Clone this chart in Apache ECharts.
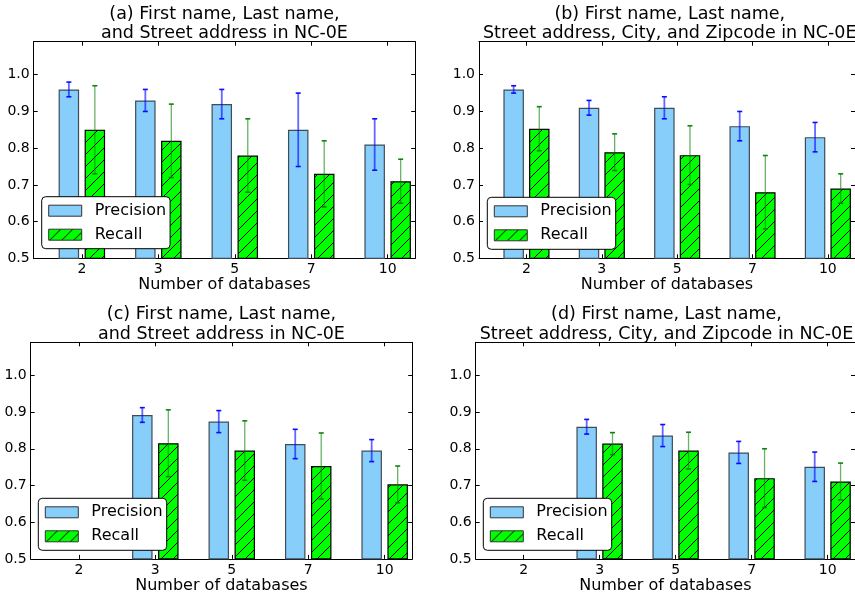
<!DOCTYPE html>
<html>
<head>
<meta charset="utf-8">
<title>Precision / Recall vs number of databases</title>
<script src="https://cdn.jsdelivr.net/npm/echarts@6/dist/echarts.min.js"></script>
<style>
  html, body { margin: 0; padding: 0; background: #fff; }
  #main { width: 855px; height: 601px; }
</style>
</head>
<body>
<div id="main"></div>
<script>
// x categories
var categories = ['2', '3', '5', '7', '10'];

// (a)
var precisionA = [0.96, 0.93, 0.92, 0.85, 0.81];
var precisionErrA = [0.02, 0.03, 0.04, 0.10, 0.07];
var recallA = [0.85, 0.82, 0.78, 0.73, 0.71];
var recallErrA = [0.12, 0.10, 0.10, 0.09, 0.06];
// (b)
var precisionB = [0.96, 0.91, 0.91, 0.86, 0.83];
var precisionErrB = [0.01, 0.02, 0.03, 0.04, 0.04];
var recallB = [0.853, 0.789, 0.781, 0.68, 0.69];
var recallErrB = [0.06, 0.05, 0.08, 0.10, 0.04];
// (c)  no value for 2 databases
var precisionC = [null, 0.892, 0.874, 0.813, 0.795];
var precisionErrC = [null, 0.02, 0.03, 0.04, 0.03];
var recallC = [null, 0.815, 0.795, 0.753, 0.703];
var recallErrC = [null, 0.091, 0.081, 0.09, 0.05];
// (d)
var precisionD = [null, 0.86, 0.836, 0.79, 0.751];
var precisionErrD = [null, 0.02, 0.03, 0.03, 0.04];
var recallD = [null, 0.814, 0.795, 0.72, 0.711];
var recallErrD = [null, 0.03, 0.05, 0.08, 0.05];

var yTicks = [0.5, 0.6, 0.7, 0.8, 0.9, 1.0];

var FONT = '"DejaVu Sans", "Bitstream Vera Sans", sans-serif';
var W = 381.5, H = 216.6;
var X_MIN = -0.63, X_MAX = 4.36, OFF = 0.17;

var panels = [
  { title: '(a) First name, Last name,\nand Street address in NC-0E', left: 33.7, top: 41.7, titleTop: 4.5,
    legend: [41.7, 196.7], p: precisionA, pe: precisionErrA, r: recallA, re: recallErrA },
  { title: '(b) First name, Last name,\nStreet address, City, and Zipcode in NC-0E', left: 479, top: 41.7, titleTop: 4.5,
    legend: [487.3, 197.3], p: precisionB, pe: precisionErrB, r: recallB, re: recallErrB },
  { title: '(c) First name, Last name,\nand Street address in NC-0E', left: 30.7, top: 342.3, titleTop: 305,
    legend: [38.3, 498.3], p: precisionC, pe: precisionErrC, r: recallC, re: recallErrC },
  { title: '(d) First name, Last name,\nStreet address, City, and Zipcode in NC-0E', left: 475.7, top: 342.3, titleTop: 305,
    legend: [483.3, 498.3], p: precisionD, pe: precisionErrD, r: recallD, re: recallErrD }
];

// hatch '/' pattern for Recall
var hatch = document.createElement('canvas');
hatch.width = 12; hatch.height = 12;
var hctx = hatch.getContext('2d');
hctx.fillStyle = '#00ff00';
hctx.fillRect(0, 0, 12, 12);
hctx.strokeStyle = '#000';
hctx.lineWidth = 1;
hctx.beginPath();
[-12, 0, 12].forEach(function (o) { hctx.moveTo(o, 12); hctx.lineTo(o + 12, 0); });
hctx.stroke();
var hatchFill = { image: hatch, repeat: 'repeat' };

function errRender(lineColor, capColor, lw) {
  return function (params, api) {
    var x = api.value(0);
    var a = api.coord([x, api.value(2)]);
    var b = api.coord([x, api.value(1)]);
    return {
      type: 'group',
      children: [
        { type: 'line', shape: { x1: a[0], y1: a[1], x2: b[0], y2: b[1] }, style: { stroke: lineColor, lineWidth: lw } },
        { type: 'line', shape: { x1: a[0] - 2.5, y1: a[1], x2: a[0] + 2.5, y2: a[1] }, style: { stroke: capColor, lineWidth: 1.6 } },
        { type: 'line', shape: { x1: b[0] - 2.5, y1: b[1], x2: b[0] + 2.5, y2: b[1] }, style: { stroke: capColor, lineWidth: 1.6 } }
      ]
    };
  };
}

function barData(vals, off) {
  var out = [];
  vals.forEach(function (v, i) { if (v != null) out.push([i + off, v]); });
  return out;
}
function errData(vals, errs, off) {
  var out = [];
  vals.forEach(function (v, i) { if (v != null) out.push([i + off, v - errs[i], v + errs[i]]); });
  return out;
}

var tickIdx = categories.map(function (c, i) { return i; });

var grid = [], xAxis = [], yAxis = [], series = [], legend = [], graphic = [];

panels.forEach(function (pn, k) {
  grid.push({ left: pn.left, top: pn.top, width: W, height: H });

  // bottom + top x axes
  xAxis.push({
    type: 'value', gridIndex: k, min: X_MIN, max: X_MAX, position: 'bottom',
    name: 'Number of databases', nameLocation: 'middle', nameGap: 19,
    nameTextStyle: { fontSize: 16, color: '#000', fontFamily: FONT },
    axisLine: { show: true, onZero: false, lineStyle: { color: '#000', width: 1 } },
    axisTick: { show: true, inside: true, length: 4, customValues: tickIdx, lineStyle: { color: '#000' } },
    axisLabel: { customValues: tickIdx, formatter: function (v) { return categories[Math.round(v)]; },
      fontSize: 14, color: '#000', fontFamily: FONT, margin: 4 },
    splitLine: { show: false }
  });
  xAxis.push({
    type: 'value', gridIndex: k, min: X_MIN, max: X_MAX, position: 'top',
    axisLine: { show: true, onZero: false, lineStyle: { color: '#000', width: 1 } },
    axisTick: { show: true, inside: true, length: 4, customValues: tickIdx, lineStyle: { color: '#000' } },
    axisLabel: { show: false },
    splitLine: { show: false }
  });

  // left + right y axes
  yAxis.push({
    type: 'value', gridIndex: k, min: 0.5, max: 1.09, position: 'left',
    axisLine: { show: true, onZero: false, lineStyle: { color: '#000', width: 1 } },
    axisTick: { show: true, inside: true, length: 4, customValues: yTicks, lineStyle: { color: '#000' } },
    axisLabel: { customValues: yTicks, formatter: function (v) { return v.toFixed(1); },
      fontSize: 14, color: '#000', fontFamily: FONT, margin: 4 },
    splitLine: { show: false }
  });
  yAxis.push({
    type: 'value', gridIndex: k, min: 0.5, max: 1.09, position: 'right',
    axisLine: { show: true, onZero: false, lineStyle: { color: '#000', width: 1 } },
    axisTick: { show: true, inside: true, length: 4, customValues: yTicks, lineStyle: { color: '#000' } },
    axisLabel: { show: false },
    splitLine: { show: false }
  });

  series.push({
    type: 'bar', name: 'Precision', xAxisIndex: 2 * k, yAxisIndex: 2 * k,
    barWidth: 20.5, barGap: '-100%',
    itemStyle: { color: '#87cefa', borderColor: '#3f4c58', borderWidth: 1.2 },
    data: barData(pn.p, -OFF)
  });
  series.push({
    type: 'bar', name: 'Recall', xAxisIndex: 2 * k, yAxisIndex: 2 * k,
    barWidth: 20.5, barGap: '-100%',
    itemStyle: { color: hatchFill, borderColor: '#000', borderWidth: 1.2 },
    data: barData(pn.r, OFF)
  });
  series.push({
    type: 'custom', name: 'precErr', xAxisIndex: 2 * k, yAxisIndex: 2 * k, z: 5,
    renderItem: errRender('rgba(0,0,255,0.6)', 'rgba(0,0,255,0.95)', 1.8),
    encode: { x: 0, y: [1, 2] },
    data: errData(pn.p, pn.pe, -OFF)
  });
  series.push({
    type: 'custom', name: 'recErr', xAxisIndex: 2 * k, yAxisIndex: 2 * k, z: 5,
    renderItem: errRender('rgba(0,128,0,0.6)', 'rgba(0,128,0,0.95)', 1.3),
    encode: { x: 0, y: [1, 2] },
    data: errData(pn.r, pn.re, OFF)
  });

  legend.push({
    left: pn.legend[0], top: pn.legend[1], orient: 'vertical',
    data: ['Precision', 'Recall'], icon: 'rect', selectedMode: false,
    itemWidth: 33, itemHeight: 11, itemGap: 6, padding: [5, 4, 5, 6.5],
    backgroundColor: '#fff', borderColor: '#000', borderWidth: 1, borderRadius: 4,
    itemStyle: { borderColor: '#333', borderWidth: 1 },
    textStyle: { fontSize: 16, color: '#000', fontFamily: FONT, lineHeight: 18, padding: [0, 0, 0, 8] },
    z: 10
  });

  graphic.push({
    type: 'text', x: pn.left + W / 2, y: pn.titleTop, z: 10,
    style: { text: pn.title, fill: '#000', fontSize: 17.5, fontFamily: FONT,
      align: 'center', verticalAlign: 'top', lineHeight: 19.5 }
  });
});

var chart = echarts.init(document.getElementById('main'), null, { renderer: 'canvas' });
chart.setOption({
  animation: false,
  backgroundColor: '#fff',
  grid: grid,
  xAxis: xAxis,
  yAxis: yAxis,
  legend: legend,
  graphic: graphic,
  series: series
});
window.addEventListener('resize', function () { chart.resize(); });
</script>
</body>
</html>
